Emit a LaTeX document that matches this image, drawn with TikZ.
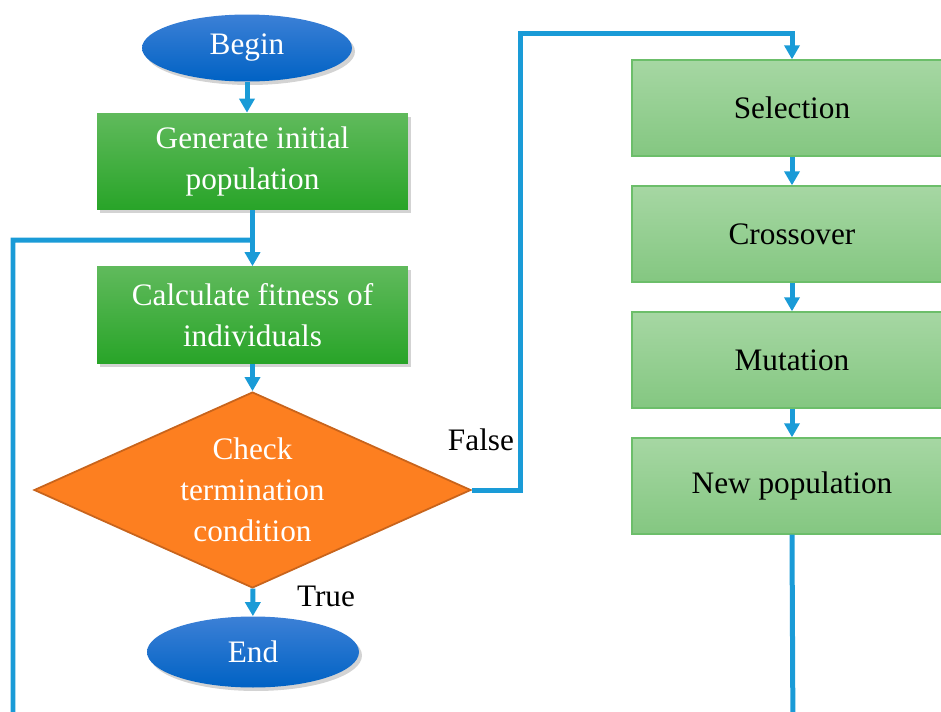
\documentclass[tikz,border=0pt]{standalone}
\usepackage{fontspec}
\setmainfont{Liberation Serif}
\usetikzlibrary{calc,shapes.geometric,arrows.meta,shadows}
\definecolor{flowblue}{RGB}{26,155,215}
\definecolor{ovaltop}{RGB}{60,128,214}
\definecolor{ovalbot}{RGB}{0,98,196}
\definecolor{darkgreentop}{RGB}{96,186,92}
\definecolor{darkgreenbot}{RGB}{40,164,40}
\definecolor{lightgreentop}{RGB}{166,215,163}
\definecolor{lightgreenbot}{RGB}{132,199,129}
\definecolor{lightgreenline}{RGB}{108,190,106}
\definecolor{checkorange}{RGB}{253,127,32}
\definecolor{checkline}{RGB}{200,100,28}

\begin{document}
\begin{tikzpicture}[x=0.02cm, y=-0.02cm,
		every node/.style={font=\fontsize{17.8pt}{23.3pt}\selectfont, align=center},
		shade/.style={drop shadow={opacity=0.35, shadow xshift=0.06cm, shadow yshift=-0.07cm}},
		oval/.style={ellipse, shade, top color=ovaltop, bottom color=ovalbot, text=white, inner sep=0},
		stepdark/.style={rectangle, shade, top color=darkgreentop, bottom color=darkgreenbot, text=white, minimum width=6.22cm, minimum height=1.94cm},
		steplight/.style={rectangle, draw=lightgreenline, line width=0.8pt, top color=lightgreentop, bottom color=lightgreenbot, text=black, minimum width=6.4cm, minimum height=1.92cm},
		check/.style={diamond, aspect=2.23, draw=checkline, line width=1pt, fill=checkorange, text=white, inner sep=0, minimum width=8.74cm, minimum height=3.92cm},
		flow/.style={draw=flowblue, line width=0.1cm},
		arrow/.style={flow, -{Triangle[width=0.3cm,length=0.28cm]}}]
		\useasboundingbox (0,0) rectangle (941,711);
		\clip (0,0) rectangle (941,711);
		% left column
		\node (Begin) at (247,48) [oval, minimum width=4.2cm, minimum height=1.34cm] {Begin};
		\node (Gen) at (252.5,161.5) [stepdark] {Generate initial\\population};
		\node (Calc) at ($(Gen) + (0,153.5)$) [stepdark] {Calculate fitness of\\individuals};
		\node (Check) at (252.5,490) [check] {Check\\termination\\condition};
		\node (End) at (253,652) [oval, minimum width=4.24cm, minimum height=1.42cm] {End};
		% right column
		\node (Sel) at (792,108) [steplight] {Selection};
		\node (Cross) at ($(Sel) + (0,126)$) [steplight] {Crossover};
		\node (Mut) at ($(Cross) + (0,126)$) [steplight] {Mutation};
		\node (NewPop) at ($(Mut) + (0,126)$) [steplight] {New population};
		% labels
		\node (False) at (481,440) {False};
		\node (True) at (326,596) {True};
		% loop coordinates
		\coordinate (falseTop) at (520,33);
		\coordinate (loopR) at (793,740);
		\coordinate (loopL) at (13,740);
		\coordinate (loopT) at (13,240);
		% connectors
		\draw[arrow] (Begin.south) -- (Begin.south |- Gen.north);
		\draw[arrow] (Gen) -- (Calc);
		\draw[arrow] (Calc) -- (Check);
		\draw[arrow] (Check) -- (End);
		\draw[arrow] (Check.east) -| (falseTop) -| (Sel.north);
		\draw[arrow] (Sel) -- (Cross);
		\draw[arrow] (Cross) -- (Mut);
		\draw[arrow] (Mut) -- (NewPop);
		\draw[flow] (NewPop.south) -- (loopR) -- (loopL) -- (loopT) -- (loopT -| Calc.north);
	\end{tikzpicture}
\end{document}
